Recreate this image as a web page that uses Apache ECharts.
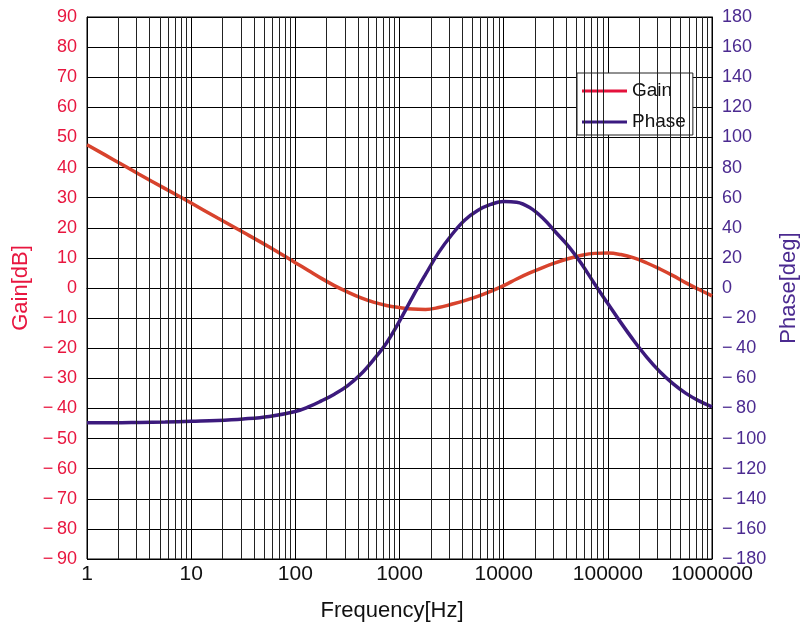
<!DOCTYPE html>
<html>
<head>
<meta charset="utf-8">
<script src="https://cdn.jsdelivr.net/npm/echarts@6/dist/echarts.min.js"></script>
<style>html,body{margin:0;padding:0;background:#fff}#c{width:801px;height:625px}</style>
</head>
<body>
<div id="c"></div>
<script>
// Frequency points [Hz]
var freqs    = [1, 1.778, 3.162, 5.623, 10, 17.78, 31.62, 56.23,
                100, 133.4, 177.8, 237.1, 316.2, 421.7, 562.3, 749.9,
                1000, 1334, 1778, 2371, 3162, 4217, 5623, 7499,
                10000, 13335, 17783, 23714, 31623, 42170, 56234, 74989,
                100000, 133352, 177828, 237137, 316228, 421697, 562341, 749894, 1000000];
// Gain [dB]
var gainDb   = [47.6, 42.7, 37.8, 33.0, 28.2, 23.3, 18.5, 13.6,
                8.4, 5.8, 3.2, 0.8, -1.3, -3.2, -4.7, -5.8,
                -6.5, -7.0, -7.1, -6.5, -5.4, -4.2, -2.8, -1.1,
                0.8, 3.0, 5.0, 6.8, 8.4, 9.8, 10.9, 11.5,
                11.6, 11.1, 10.0, 8.3, 6.3, 4.1, 1.7, -0.5, -2.6];
// Phase [deg]
var phaseDeg = [-89.5, -89.5, -89.3, -89.0, -88.5, -88.0, -87.0, -85.3,
                -82.0, -79.0, -75.0, -70.5, -65.0, -57.5, -47.7, -36.5,
                -22.0, -6.0, 9.0, 23.5, 35.2, 45.0, 51.5, 55.5,
                57.5, 57.0, 53.5, 46.5, 37.0, 27.5, 15.8, 2.5,
                -10.3, -23.0, -35.0, -46.0, -55.6, -63.5, -70.0, -75.0, -79.0];
// Axis ranges / ticks
var gainTicks  = {min: -90, max: 90, step: 10};
var phaseTicks = {min: -180, max: 180, step: 20};
var freqRange  = {min: 1, max: 1000000};

var minorFreqs = [];
for (var d = freqRange.min; d < freqRange.max; d *= 10) {
  for (var k = 2; k <= 9; k++) minorFreqs.push({xAxis: d * k});
}
function fmtNeg(v) { return v < 0 ? '\u2212\u2009' + Math.abs(v) : String(v); }

var FONT = '"Liberation Sans", Arial, Helvetica, sans-serif';
var RED_LBL = '#e8163f', PUR_LBL = '#4b2a90';
var GAIN_C = '#d8432d', PHASE_C = '#3c1a7d';

var chart = echarts.init(document.getElementById('c'), null, {renderer: 'canvas'});
chart.setOption({
  animation: false,
  backgroundColor: '#fff',
  grid: {left: 87, right: 89, top: 17, bottom: 66, show: true, borderColor: '#000', borderWidth: 1,
    backgroundColor: 'transparent', containLabel: false, outerBoundsMode: 'none'},
  legend: {
    orient: 'vertical', left: 577, top: 73,
    backgroundColor: '#fff', borderColor: '#222', borderWidth: 1,
    padding: [8, 7, 3, 5],
    itemWidth: 45, itemHeight: 3, itemGap: 11, icon: 'rect',
    textStyle: {fontSize: 19, fontFamily: FONT, color: '#111', lineHeight: 20},
    data: [
      {name: 'Gain', itemStyle: {color: '#e4123c'}},
      {name: 'Phase', itemStyle: {color: '#3a1a80'}}
    ]
  },
  xAxis: {
    type: 'log', logBase: 10, min: freqRange.min, max: freqRange.max,
    axisLine: {show: true, lineStyle: {color: '#000'}},
    axisTick: {show: false},
    axisLabel: {fontSize: 21, fontFamily: FONT, color: '#111', margin: 5,
      formatter: function (v) { return String(Math.round(v)); }},
    splitLine: {show: true, lineStyle: {color: '#000', width: 1}}
  },
  yAxis: [{
    type: 'value', min: gainTicks.min, max: gainTicks.max, interval: gainTicks.step,
    name: 'Gain[dB]', nameLocation: 'middle', nameGap: 54,
    nameTextStyle: {fontSize: 22, fontFamily: FONT, color: RED_LBL},
    axisLine: {show: true, lineStyle: {color: '#000'}},
    axisTick: {show: false},
    axisLabel: {fontSize: 18, fontFamily: FONT, color: RED_LBL, margin: 10, formatter: fmtNeg},
    splitLine: {show: true, lineStyle: {color: '#000', width: 1}}
  }, {
    type: 'value', min: phaseTicks.min, max: phaseTicks.max, interval: phaseTicks.step,
    position: 'right',
    name: 'Phase[deg]', nameLocation: 'middle', nameGap: 66,
    nameTextStyle: {fontSize: 22, fontFamily: FONT, color: PUR_LBL},
    axisLine: {show: true, lineStyle: {color: '#000'}},
    axisTick: {show: false},
    axisLabel: {fontSize: 18, fontFamily: FONT, color: PUR_LBL, margin: 10, formatter: fmtNeg},
    splitLine: {show: false}
  }],
  graphic: [{
    type: 'text', x: 392, y: 611,
    style: {text: 'Frequency[Hz]', font: '22px ' + FONT, fill: '#111', align: 'center', verticalAlign: 'middle'}
  }],
  series: [{
    name: 'minor', type: 'line', z: 1, data: [[1, 0]], showSymbol: false, silent: true,
    lineStyle: {opacity: 0}, legendHoverLink: false, tooltip: {show: false},
    markLine: {silent: true, symbol: ['none', 'none'], label: {show: false},
      lineStyle: {type: 'solid', color: '#222', width: 1}, emphasis: {disabled: true},
      data: minorFreqs}
  }, {
    name: 'Gain', type: 'line', z: 3, yAxisIndex: 0, smooth: 0.4, showSymbol: false,
    lineStyle: {color: GAIN_C, width: 3.5}, itemStyle: {color: GAIN_C},
    data: freqs.map(function (f, i) { return [f, gainDb[i]]; })
  }, {
    name: 'Phase', type: 'line', z: 4, yAxisIndex: 1, smooth: 0.4, showSymbol: false,
    lineStyle: {color: PHASE_C, width: 3.5}, itemStyle: {color: PHASE_C},
    data: freqs.map(function (f, i) { return [f, phaseDeg[i]]; })
  }]
});
</script>
</body>
</html>
